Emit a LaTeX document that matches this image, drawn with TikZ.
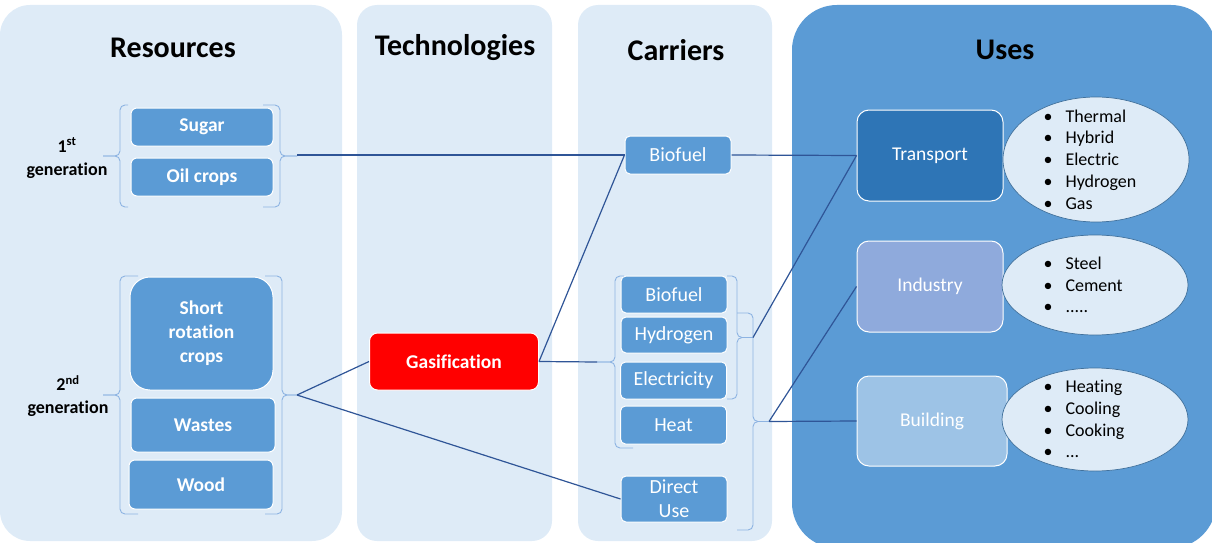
\documentclass[tikz,border=0pt]{standalone}
\usepackage{fontspec}
\setmainfont{Carlito}[Ligatures=NoCommon]
\usetikzlibrary{shapes.geometric}
\definecolor{panel}{HTML}{DEEBF7}
\definecolor{boxblue}{HTML}{5B9BD5}
\definecolor{linkblue}{HTML}{2F5597}
\definecolor{bracecol}{HTML}{8DB3E2}
\definecolor{darkbox}{HTML}{2E75B6}
\definecolor{indbox}{HTML}{8FAADC}
\definecolor{bldbox}{HTML}{9DC3E6}
\definecolor{ellborder}{HTML}{41719C}
\newcommand{\bulletitem}{\makebox[22pt][l]{\textbullet}}

\begin{document}
\begin{tikzpicture}[x=1pt,y=-1pt,
    head/.style={font=\fontsize{30}{34}\selectfont\bfseries},
    gen/.style={font=\fontsize{18}{23}\selectfont\bfseries,align=center},
    res/.style={draw=white,line width=1pt,fill=boxblue,rounded corners=6pt,text=white,
      font=\fontsize{19.5}{24}\selectfont\bfseries,align=center},
    car/.style={draw=white,line width=1pt,fill=boxblue,rounded corners=5pt,text=white,
      font=\fontsize{20}{24}\selectfont,align=center,minimum width=106pt,inner sep=2pt},
    use/.style={draw=white,line width=1pt,rounded corners=12pt,text=white,
      font=\fontsize{19.5}{22}\selectfont,minimum width=146pt,minimum height=91pt},
    lst/.style={ellipse,draw=ellborder,fill=panel,line width=0.7pt,inner sep=0pt},
    lsttext/.style={anchor=west,align=left,font=\fontsize{18}{21.8}\selectfont},
    brc/.style={draw=bracecol,line width=0.9pt,rounded corners=5pt},
    link/.style={draw=linkblue,line width=1.2pt}]
      \useasboundingbox (0,0) rectangle (1212,543) ;
      % columns
      \fill[panel,rounded corners=30pt] (0,5) rectangle (342,541) ;
      \fill[panel,rounded corners=20pt] (357,5) rectangle (552,541) ;
      \fill[panel,rounded corners=20pt] (578,5) rectangle (772,541) ;
      \fill[boxblue,rounded corners=45pt] (792,5) rectangle (1216,548) ;
      \node[head] (hres) at (173,48) {Resources} ;
      \node[head] (htec) at (455,48) {Technologies} ;
      \node[head] (hcar) at (676,50) {Carriers} ;
      \node[head] (huse) at (1005,50) {Uses} ;
      % resources
      \node[gen] (gen1) at (67,158) {1\textsuperscript{st}\\generation} ;
      \node[gen] (gen2) at (68,396) {2\textsuperscript{nd}\\generation} ;
      \node[res,minimum width=142pt,minimum height=38pt] (sugar) at (202,127) {Sugar} ;
      \node[res,minimum width=142pt,minimum height=38pt] (oil) at (202,177) {Oil crops} ;
      \node[res,minimum width=143pt,minimum height=113pt,rounded corners=20pt] %
      (src) at (201.5,333.5) {Short\\rotation\\crops} ;
      \node[res,minimum width=144pt,minimum height=54pt] (wastes) at (203,425) {Wastes} ;
      \node[res,minimum width=144pt,minimum height=49pt] (wood) at (201,484.5) {Wood} ;
      % braces
      \draw[brc] (128,105) -- (120,105) -- (120,156) -- (103,156) ;
      \draw[brc] (128,207) -- (120,207) -- (120,156) -- (103,156) ;
      \draw[brc] (263,105) -- (280,105) -- (280,156) -- (297,156) ;
      \draw[brc] (263,207) -- (280,207) -- (280,156) -- (297,156) ;
      \draw[brc] (138,276) -- (120,276) -- (120,395) -- (103,395) ;
      \draw[brc] (138,514) -- (120,514) -- (120,395) -- (103,395) ;
      \draw[brc] (265,276) -- (282,276) -- (282,395) -- (297,395) ;
      \draw[brc] (265,514) -- (282,514) -- (282,395) -- (297,395) ;
      \coordinate (g1r) at (297,155) ;
      \coordinate (g2r) at (297,395) ;
      % technologies
      \node[res,fill=red,minimum width=169pt,minimum height=57pt,rounded corners=8pt] %
      (gas) at (454,361.5) {Gasification} ;
      % carriers
      \node[car,minimum height=38pt] (bio1) at (678,155) {Biofuel} ;
      \node[car,minimum height=37pt] (bio2) at (674,294.5) {Biofuel} ;
      \node[car,minimum height=36pt] (hyd) at (674,335) {Hydrogen} ;
      \node[car,minimum height=37pt] (ele) at (673.5,380.5) {Electricity} ;
      \node[car,minimum height=38pt] (heat) at (673.5,425) {Heat} ;
      \node[car,minimum height=46pt] (direct) at (674,499) {Direct\\Use} ;
      \draw[brc] (624,276) -- (615,276) -- (615,362) -- (597,362) ;
      \draw[brc] (633,448) -- (615,448) -- (615,362) -- (597,362) ;
      \draw[brc] (727,276) -- (737,276) -- (737,337.5) -- (753,337.5) ;
      \draw[brc] (727,399) -- (737,399) -- (737,337.5) -- (753,337.5) ;
      \draw[brc] (737,313) -- (753,313) -- (753,421.5) -- (769,421.5) ;
      \draw[brc] (737,530) -- (753,530) -- (753,421.5) -- (769,421.5) ;
      \coordinate (cleft) at (597,362) ;
      \coordinate (cbr1) at (753,337.5) ;
      \coordinate (cbr2) at (769,421.5) ;
      % uses
      \node[use,fill=darkbox] (trans) at (930,155.5) {Transport} ;
      \node[use,fill=indbox] (ind) at (930,286.5) {Industry} ;
      \node[use,fill=bldbox,minimum width=150pt,minimum height=90pt] (bld) at (932,421) {Building} ;
      \node[lst,minimum width=186pt,minimum height=125pt] (tell) at (1096,159.5) {} ;
      \node[lst,minimum width=186pt,minimum height=100pt] (iell) at (1095,285) {} ;
      \node[lst,minimum width=186pt,minimum height=103pt] (bell) at (1095,419.5) {} ;
      \node[lsttext] (tlist) at (1040,159.5) {\bulletitem Thermal\\\bulletitem Hybrid\\%
        \bulletitem Electric\\\bulletitem Hydrogen\\\bulletitem Gas} ;
      \node[lsttext] (ilist) at (1040,285) {\bulletitem Steel\\\bulletitem Cement\\\bulletitem .....} ;
      \node[lsttext] (blist) at (1040,419) {\bulletitem Heating\\\bulletitem Cooling\\%
        \bulletitem Cooking\\\bulletitem ...} ;
      % links
      \draw[link] (g1r) -- (bio1.west) ;
      \draw[link] (g2r) -- (gas.west) ;
      \draw[link] (g2r) -- (direct.west) ;
      \draw[link] (gas.east) -- (bio1.west) ;
      \draw[link] (gas.east) -- (cleft) ;
      \draw[link] (bio1.east) -- (trans.west) ;
      \draw[link] (cbr1) -- (trans.west) ;
      \draw[link] (cbr2) -- (ind.west) ;
      \draw[link] (cbr2) -- (bld.west) ;
    \end{tikzpicture}
\end{document}
